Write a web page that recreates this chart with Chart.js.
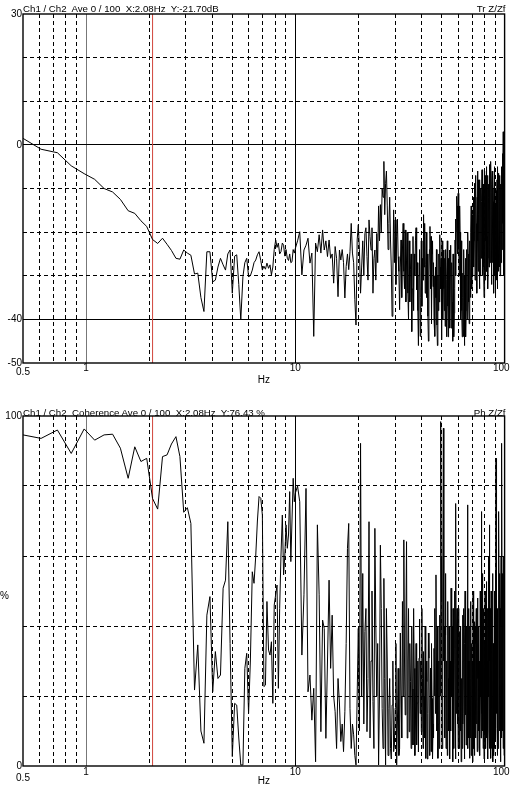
<!DOCTYPE html>
<html>
<head>
<meta charset="utf-8">
<script src="https://cdn.jsdelivr.net/npm/chart.js@4.4.1/dist/chart.umd.min.js"></script>
<style>
  body { margin: 0; background: #fff; width: 516px; height: 789px; position: relative; overflow: hidden;
         font-family: "Liberation Sans", Arial, sans-serif; }
  canvas { position: absolute; left: 0; }
  .lbl { position: absolute; font-size: 9.7px; line-height: 1; color: #000; white-space: pre; }
</style>
</head>
<body>
<canvas id="transfer" width="516" height="400" style="top:0"></canvas>
<canvas id="coherence" width="516" height="389" style="top:400px"></canvas>
<div class="lbl" style="left:23px;top:4px">Ch1 / Ch2  Ave 0 / 100  X:2.08Hz  Y:-21.70dB</div>
<div class="lbl" style="right:10.5px;top:4px">Tr Z/Zf</div>
<div class="lbl" style="left:23px;top:408px">Ch1 / Ch2  Coherence Ave 0 / 100  X:2.08Hz  Y:76.43 %</div>
<div class="lbl" style="right:10.5px;top:408px">Ph Z/Zf</div>
<script>
// frequency bins (Hz), shared by both traces
var freqHz = [
  0.50, 0.61, 0.73, 0.85, 0.98, 1.10, 1.22, 1.34, 1.46, 1.59, 1.71, 1.83, 1.95, 2.08, 2.20, 2.32, 2.44, 2.56, 2.69, 2.81, 2.93,
  3.05, 3.17, 3.30, 3.42, 3.54, 3.66, 3.78, 3.91, 4.03, 4.15, 4.27, 4.39, 4.52, 4.64, 4.76, 4.88, 5.00, 5.13, 5.25, 5.37, 5.49, 5.62, 5.74, 5.86, 5.98,
  6.10, 6.23, 6.35, 6.47, 6.59, 6.71, 6.84, 6.96, 7.08, 7.20, 7.32, 7.45, 7.57, 7.69, 7.81, 7.93, 8.06, 8.18, 8.30, 8.42, 8.54, 8.67, 8.79, 8.91,
  9.03, 9.16, 9.28, 9.40, 9.52, 9.64, 9.77, 9.89, 10.01,
  10.25, 10.5, 10.75, 11, 11.25, 11.5, 11.75, 12, 12.25, 12.5,
  12.75, 13, 13.25, 13.5, 13.75, 14, 14.25, 14.5, 14.75, 15,
  15.25, 15.5, 15.75, 16, 16.25, 16.5, 16.75, 17, 17.25, 17.5,
  17.75, 18, 18.25, 18.5, 18.75, 19, 19.25, 19.5, 19.75, 20,
  20.25, 20.5, 20.75, 21, 21.25, 21.5, 21.75, 22, 22.25, 22.5, 22.75, 23, 23.25, 23.5, 23.75, 24, 24.25, 24.5, 24.75, 25,
  25.25, 25.5, 25.75, 26, 26.25, 26.5, 26.75, 27, 27.25, 27.5, 27.75, 28, 28.25, 28.5, 28.75, 29, 29.25, 29.5, 29.75, 30,
  30.25, 30.5, 30.75, 31, 31.25, 31.5, 31.75, 32, 32.25, 32.5, 32.75, 33, 33.25, 33.5, 33.75, 34, 34.25, 34.5, 34.75, 35,
  35.25, 35.5, 35.75, 36, 36.25, 36.5, 36.75, 37, 37.25, 37.5, 37.75, 38, 38.25, 38.5, 38.75, 39, 39.25, 39.5, 39.75, 40,
  40.25, 40.5, 40.75, 41, 41.25, 41.5, 41.75, 42, 42.25, 42.5, 42.75, 43, 43.25, 43.5, 43.75, 44, 44.25, 44.5, 44.75, 45,
  45.25, 45.5, 45.75, 46, 46.25, 46.5, 46.75, 47, 47.25, 47.5, 47.75, 48, 48.25, 48.5, 48.75, 49, 49.25, 49.5, 49.75, 50,
  50.25, 50.5, 50.75, 51, 51.25, 51.5, 51.75, 52, 52.25, 52.5, 52.75, 53, 53.25, 53.5, 53.75, 54, 54.25, 54.5, 54.75, 55,
  55.25, 55.5, 55.75, 56, 56.25, 56.5, 56.75, 57, 57.25, 57.5, 57.75, 58, 58.25, 58.5, 58.75, 59, 59.25, 59.5, 59.75, 60,
  60.25, 60.5, 60.75, 61, 61.25, 61.5, 61.75, 62, 62.25, 62.5, 62.75, 63, 63.25, 63.5, 63.75, 64, 64.25, 64.5, 64.75, 65,
  65.25, 65.5, 65.75, 66, 66.25, 66.5, 66.75, 67, 67.25, 67.5, 67.75, 68, 68.25, 68.5, 68.75, 69, 69.25, 69.5, 69.75, 70,
  70.25, 70.5, 70.75, 71, 71.25, 71.5, 71.75, 72, 72.25, 72.5, 72.75, 73, 73.25, 73.5, 73.75, 74, 74.25, 74.5, 74.75, 75,
  75.25, 75.5, 75.75, 76, 76.25, 76.5, 76.75, 77, 77.25, 77.5, 77.75, 78, 78.25, 78.5, 78.75, 79, 79.25, 79.5, 79.75, 80,
  80.25, 80.5, 80.75, 81, 81.25, 81.5, 81.75, 82, 82.25, 82.5, 82.75, 83, 83.25, 83.5, 83.75, 84, 84.25, 84.5, 84.75, 85,
  85.25, 85.5, 85.75, 86, 86.25, 86.5, 86.75, 87, 87.25, 87.5, 87.75, 88, 88.25, 88.5, 88.75, 89, 89.25, 89.5, 89.75, 90,
  90.25, 90.5, 90.75, 91, 91.25, 91.5, 91.75, 92, 92.25, 92.5, 92.75, 93, 93.25, 93.5, 93.75, 94, 94.25, 94.5, 94.75, 95,
  95.25, 95.5, 95.75, 96, 96.25, 96.5, 96.75, 97, 97.25, 97.5, 97.75, 98, 98.25, 98.5, 98.75, 99, 99.25, 99.5, 99.75, 100
];

// Tr Z/Zf, dB
var transferDb = [
  1.5, -1.0, -1.8, -4.8, -6.6, -7.9, -10.0, -10.8, -12.5, -15.1, -15.7, -17.4, -18.7, -21.7, -22.6, -21.4, -22.8, -24.2, -26.0, -26.2, -24.1,
  -24.8, -25.3, -29.6, -29.4, -35.0, -38.2, -24.5, -24.5, -31.4, -31.0, -28.0, -26.0, -27.5, -28.7, -25.0, -24.1, -34.0, -25.5, -25.2, -32.0, -40.1, -30.2, -27.0, -26.0, -30.2,
  -30.0, -28.7, -27.0, -26.4, -25.2, -24.5, -26.5, -28.7, -27.8, -28.5, -27.1, -28.3, -27.5, -29.8, -28.0, -24.0, -21.8, -23.5, -22.5, -25.0, -24.5, -22.5, -23.0, -25.5,
  -24.0, -26.0, -26.5, -25.0, -27.0, -26.8, -24.0, -24.8, -23.7,
  -22.0, -19.9, -29.8, -24.1, -23.0, -21.4, -27.1, -24.8, -43.9, -22.5,
  -24.5, -20.6, -24.8, -19.5, -24.1, -22.0, -25.6, -21.8, -26.0, -25.0,
  -31.7, -23.3, -26.0, -34.8, -24.1, -26.4, -24.0, -27.0, -35.1, -27.9,
  -25.0, -28.6, -24.5, -18.0, -24.8, -27.0, -35.5, -41.3, -21.8, -18.3,
  -24, -34, -28, -22, -30, -20.3, -19, -25.6, -31, -17.2, -21, -24.1, -19, -34, -26, -24.1, -31, -20.3, -27, -14,
  -22, -13.7, -20, -10, -12, -3.8, -16, -8.8, -6, -14, -24, -18, -12, -21.8, -28, -39.3, -30, -14.9, -27, -17.2,
  -32, -21, -17, -25.6, -29, -37.8, -28, -21.8, -35, -24.1, -18, -29, -33, -19.5, -36, -26.4, -20, -34, -40, -22,
  -36, -28.5, -25, -42.8, -33, -21, -38, -25, -30, -22, -19, -33.2, -27, -38, -46, -30, -24, -43.9, -35, -22,
  -37, -26, -31, -16, -28, -18, -34, -27.5, -20, -35, -25, -39.3, -45, -30, -24, -18.7, -33, -21, -41, -25,
  -22, -32.5, -27, -40, -30, -43.9, -28, -35, -24, -41.3, -46, -30, -38, -25, -36, -20.6, -28, -33, -26, -44.7,
  -22, -30, -40, -24.1, -33, -38, -26, -41.6, -24, -33, -44, -30.8, -22, -37, -44, -26, -36, -24.1, -42, -30,
  -23, -42, -34, -27, -36, -45, -25, -30, -44, -38.6, -33, -21.8, -17, -30, -20, -11.8, -14, -25, -19, -11.1,
  -16, -24, -30, -14, -20, -32, -40, -22, -27, -38, -44, -29.4, -35, -43.9, -24, -30, -46, -42, -34, -26,
  -44, -38, -31, -24, -40, -34.5, -20, -25, -29, -36, -41, -22, -26, -31, -35, -20, -14, -27, -33, -16,
  -30, -24, -20, -12, -28, -22, -15, -8.8, -31, -19, -7, -10, -18, -27, -34, -12, -6, -22, -29, -8,
  -16, -25, -33, -14, -8, -30, -19, -10, -26, -20, -13, -5.7, -30, -18, -24, -9, -11, -28, -35, -12,
  -6, -25, -31, -7, -22, -17, -12, -5, -29, -21, -7, -10, -33, -26, -9, -12, -28, -20, -16, -4.5,
  -27, -15, -20, -3.8, -11, -24.8, -32, -9, -6, -18, -27, -7, -13, -23, -34, -10, -5, -30, -22, -14,
  -26, -34.8, -18, -10.5, -31, -22, -14, -8, -33, -27, -5, -12, -29, -20, -24, -6.5, -13, -17, -28, -7,
  -30, -23, -12, -9, -27, -20, -14, -5, -24, -16, -8, -2, -18, 3, -6, -20, -30, -10, -15, -28
];

// coherence, %
var coherencePct = [
  94.6, 93.6, 96.0, 89.3, 96.3, 93.1, 94.6, 94.8, 90.8, 82.2, 91.2, 87.0, 87.9, 76.4, 73.4, 88.4, 88.9, 92.0, 94.1, 88.4, 72.5,
  73.8, 69.3, 21.7, 34.6, 10.0, 6.5, 43.1, 48.4, 21.2, 32.7, 25.0, 26.0, 50.8, 53.1, 69.8, 35.0, 2.7, 17.9, 17.4, 8.0, 0.3, 0.3, 27.9, 32.2, 15.0,
  30.0, 55.5, 52.2, 60.0, 70.0, 77.0, 76.5, 71.7, 22.7, 23.1, 47.0, 33.1, 31.7, 35.5, 17.9, 46.0, 49.0, 51.7, 22.2, 45.0, 60.0, 71.7, 54.6, 60.0,
  68.9, 62.2, 66.0, 78.4, 58.4, 70.0, 82.2, 75.5, 78.0,
  80.0, 75.5, 31.7, 48.9, 79.3, 21.2, 26.0, 13.1, 22.2, 1.2,
  68.9, 48.9, 9.8, 41.7, 39.3, 7.9, 30.0, 53.1, 27.9, 43.1,
  20.0, 15.5, 5.0, 25.0, 18.0, 7.0, 12.0, 4.1, 15.5, 35.0,
  62.2, 69.3, 16.5, 5.0, 12.0, 8.9, 3.0, 0.3, 20.0, 39.3,
  10, 92.2, 20, 55, 12, 38.4, 45, 9.8, 25, 69.8, 8, 30, 50, 18.4, 5, 67.9, 40, 20, 35, 0.3,
  20, 63.1, 45, 16.5, 5, 53.6, 25, 0.3, 45, 30, 3, 16.5, 25, 5, 2, 17.4, 30, 4.1, 6, 16.5,
  35, 0.3, 12, 27.9, 3, 5, 38, 20, 8, 47, 20, 64.6, 30, 14.6, 40, 64.1, 8, 30, 45, 9.8,
  35, 24.1, 5, 40, 22, 6, 45, 27.9, 3, 12, 35, 6, 18, 30, 4, 30.8, 42, 15, 30, 9.8,
  45, 25, 5, 32.7, 20, 8, 40, 2.2, 30, 24.1, 2, 15, 38, 30.8, 3, 10, 28, 4.1, 35, 19.3,
  2, 12, 8, 33.6, 20, 45, 15, 54.6, 30, 10, 40, 2.2, 12, 30, 5, 43.1, 20, 98.4, 60, 47,
  5, 20, 50, 96.5, 30, 40, 8, 37.4, 55, 5, 20, 30, 3, 47, 25, 10, 40, 8.9, 2, 30,
  10, 50.8, 35, 20, 40, 1.2, 45, 15, 5, 33.6, 50, 20, 2, 75, 15, 40, 45, 12, 30, 5,
  45, 25, 5, 38.4, 30, 10, 40, 1.2, 25, 20, 5, 43.1, 12, 30, 45, 15, 2, 35, 50, 14.6,
  35, 6, 20, 40, 10, 74.6, 5, 30, 45, 8, 30, 2.2, 40, 25, 8, 47, 3, 20, 35, 5,
  30, 1.2, 50, 30, 5, 41.2, 3, 20, 40, 8, 15, 35, 45, 12, 30, 4.1, 48, 25, 35, 10,
  40, 5, 12, 30, 3, 50, 45, 20, 8, 72.7, 15, 40, 55, 10, 30, 5, 45, 20, 2, 35,
  3, 10, 50, 39.3, 5, 20, 30, 52.7, 8, 30, 45, 10, 2, 45, 20, 60, 10, 68.9, 5, 30,
  45, 5, 35, 2.2, 50, 20, 5, 43.1, 8, 25, 55, 1.2, 35, 15, 3, 30, 50, 5, 10, 40,
  55, 8, 30, 87.9, 40, 15, 50, 10.8, 3, 45, 35, 5, 50, 30, 8, 72.7, 40, 10, 55, 25,
  45, 1.2, 20, 40, 60, 8, 35, 92.2, 45, 20, 10, 55, 30, 5, 60, 33.6, 40, 3, 10, 50
];

var cursorHz = 2.08;
var xGridHz = [0.6, 0.7, 0.8, 0.9, 1, 2, 3, 4, 5, 6, 7, 8, 9, 10, 20, 30, 40, 50, 60, 70, 80, 90];
var xSolidHz = [1, 10];
var xTickLabels = [0.5, 1, 10, 100];

var transferGrid = [-40, -30, -20, -10, 0, 10, 20];
var transferSolid = [0, -40];
var transferTickLabels = [30, 0, -40, -50];

var coherenceGrid = [20, 40, 60, 80];
var coherenceTickLabels = [100, 0];

var FONT = '10px "Liberation Sans", Arial, sans-serif';

// frame and axis texts
var panelDecor = {
  id: 'panelDecor',
  afterDraw: function(chart, args, o) {
    var ctx = chart.ctx, a = chart.chartArea;
    var xs = chart.scales.x, ys = chart.scales.y;
    ctx.save();
    ctx.strokeStyle = '#000';
    ctx.lineWidth = 1.4;
    ctx.strokeRect(a.left, a.top, a.right - a.left, a.bottom - a.top);

    ctx.font = FONT;
    ctx.fillStyle = '#000';
    ctx.textAlign = 'right';
    ctx.textBaseline = 'middle';
    o.yLabels.forEach(function(v) {
      ctx.fillText(String(v), a.left - 1, ys.getPixelForValue(v));
    });

    xTickLabels.forEach(function(v) {
      var px = xs.getPixelForValue(v);
      var py = a.bottom + o.tickGap;
      if (v === xs.min) {
        ctx.textAlign = 'center';
        py += o.firstDrop;
      } else if (v === xs.max) {
        ctx.textAlign = 'right';
        px += 5;
      } else {
        ctx.textAlign = 'center';
      }
      ctx.fillText(String(v), px, py);
    });

    ctx.textAlign = 'center';
    ctx.fillText('Hz', (a.left + a.right) / 2, a.bottom + o.unitGap);
    if (o.yUnit) {
      ctx.textAlign = 'left';
      ctx.fillText(o.yUnit, 0, (a.top + a.bottom) / 2 + 5);
    }
    ctx.restore();
  }
};

function dashFor(solid) {
  return function(c) {
    if (!c.tick) return [];
    return solid.indexOf(c.tick.value) >= 0 ? [] : [4, 3];
  };
}

function makeChart(canvasId, values, yMin, yMax, yGrid, ySolid, decor, pad) {
  var points = freqHz.map(function(f, i) { return { x: f, y: values[i] }; });
  return new Chart(document.getElementById(canvasId), {
    type: 'line',
    data: {
      datasets: [{
        data: points,
        borderColor: '#000',
        borderWidth: 1,
        pointRadius: 0,
        tension: 0,
        fill: false,
        order: 1
      }, {
        // X cursor
        data: [{ x: cursorHz, y: yMin }, { x: cursorHz, y: yMax }],
        borderColor: '#d2463c',
        borderWidth: 1,
        pointRadius: 0,
        fill: false,
        order: 2
      }]
    },
    options: {
      responsive: false,
      animation: false,
      events: [],
      layout: { padding: pad },
      plugins: { legend: { display: false }, tooltip: { enabled: false }, panelDecor: decor },
      scales: {
        x: {
          type: 'logarithmic',
          min: 0.5,
          max: 100,
          afterBuildTicks: function(scale) {
            scale.ticks = xGridHz.map(function(v) { return { value: v }; });
          },
          ticks: { display: false },
          grid: {
            drawTicks: false,
            lineWidth: 1,
            color: function(c) { return c.tick && c.tick.value === 1 ? '#777' : '#000'; }
          },
          border: { display: false, dash: dashFor(xSolidHz) }
        },
        y: {
          type: 'linear',
          min: yMin,
          max: yMax,
          afterBuildTicks: function(scale) {
            scale.ticks = yGrid.map(function(v) { return { value: v }; });
          },
          ticks: { display: false },
          grid: { drawTicks: false, lineWidth: 1, color: '#000' },
          border: { display: false, dash: dashFor(ySolid) }
        }
      }
    },
    plugins: [panelDecor]
  });
}

makeChart('transfer', transferDb, -50, 30, transferGrid, transferSolid,
  { yLabels: transferTickLabels, tickGap: 5.7, firstDrop: 4, unitGap: 17, yUnit: '' },
  { left: 23, top: 14, right: 11.4, bottom: 37 });

makeChart('coherence', coherencePct, 0, 100, coherenceGrid, [],
  { yLabels: coherenceTickLabels, tickGap: 6.7, firstDrop: 5.3, unitGap: 15.5, yUnit: '%' },
  { left: 23, top: 16, right: 11.4, bottom: 23 });
</script>
</body>
</html>
